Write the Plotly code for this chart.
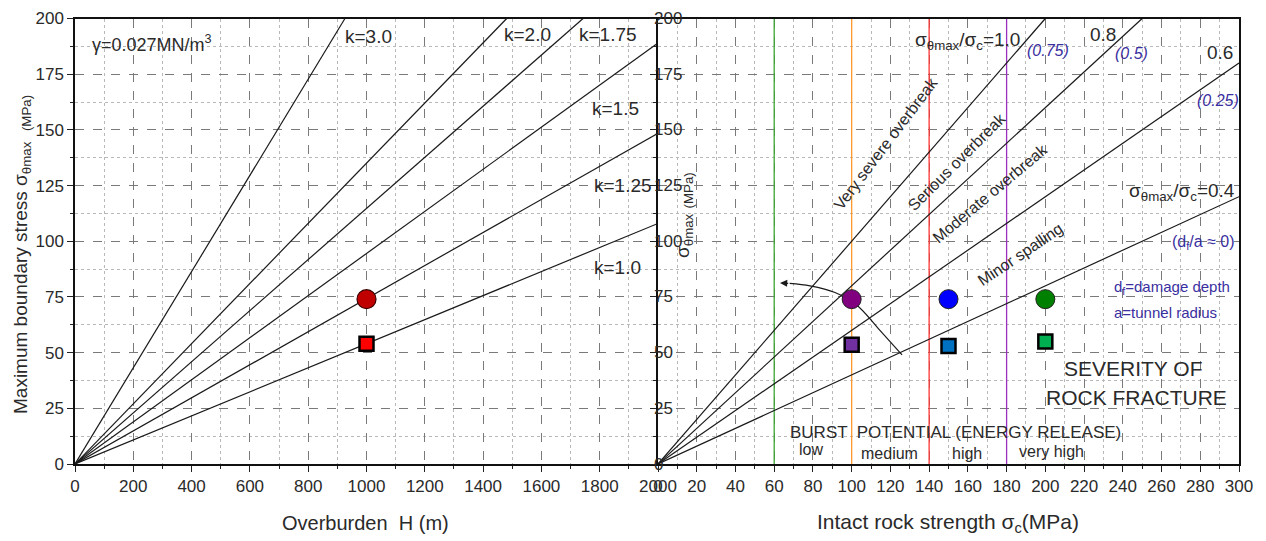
import plotly.graph_objects as go

# ---------------- data ----------------
# Left panel: boundary stress lines for different k (straight lines from origin)
k_labels = ["k=1.0", "k=1.25", "k=1.5", "k=1.75", "k=2.0", "k=3.0"]
k_end_H = [2000, 2000, 2000, 1743, 1481, 926]
k_end_stress = [108, 148.5, 189, 200, 200, 200]
k_label_H = [1774, 1774, 1767, 1722, 1465, 919]
k_label_stress = [88, 125, 159.6, 193, 193, 192]

left_pt_H = [1000]
left_circle_stress = [74]
left_square_stress = [54]

# Right panel: sigma_max / sigma_c ratio lines
ratio_values = ["1.0", "0.8", "0.6", "0.4"]
ratio_end_sc = [200, 250, 300, 300]
ratio_end_stress = [200, 200, 180, 120]

burst_limits = [60, 100, 140, 180]
burst_colors = ["#3aa635", "#ff9a2e", "#ff3333", "#9b30c0"]

right_pt_sc = [100, 150, 200]
right_circle_stress = [74, 74, 74]
right_square_stress = [53.5, 53, 55]
circle_colors = ["#800080", "#0000ff", "#008000"]
square_colors = ["#7030a0", "#0070c0", "#00b050"]

arrow_sc = [126, 114.6, 102.7, 91.4, 78.5, 68]
arrow_stress = [49, 60, 71.3, 77, 80, 81.1]

stress_ticks = [0, 25, 50, 75, 100, 125, 150, 175, 200]

FONT = "Liberation Sans, Arial, sans-serif"
TXT = "#2a2a2a"
BLUE = "#3a2fa0"
OFF = 8  # page body margin

fig = go.Figure()

# left lines
for he, se in zip(k_end_H, k_end_stress):
    fig.add_trace(go.Scatter(x=[0, he], y=[0, se], mode="lines",
                             line=dict(color="#1a1a1a", width=1.2),
                             xaxis="x", yaxis="y", hoverinfo="skip"))
fig.add_trace(go.Scatter(x=left_pt_H, y=left_circle_stress, mode="markers",
                         marker=dict(symbol="circle", size=19, color="#c00000",
                                     line=dict(color="#3a0000", width=1.2)),
                         xaxis="x", yaxis="y"))
fig.add_trace(go.Scatter(x=left_pt_H, y=left_square_stress, mode="markers",
                         marker=dict(symbol="square", size=14, color="#ff0000",
                                     line=dict(color="#000000", width=2.5)),
                         xaxis="x", yaxis="y"))

# right: burst potential vertical lines
for lim, c in zip(burst_limits, burst_colors):
    fig.add_trace(go.Scatter(x=[lim, lim], y=[0, 200], mode="lines",
                             line=dict(color=c, width=1.3),
                             xaxis="x2", yaxis="y2", hoverinfo="skip"))
# ratio lines
for xe, ye in zip(ratio_end_sc, ratio_end_stress):
    fig.add_trace(go.Scatter(x=[0, xe], y=[0, ye], mode="lines",
                             line=dict(color="#1a1a1a", width=1.2),
                             xaxis="x2", yaxis="y2", hoverinfo="skip"))
# curved arrow
fig.add_trace(go.Scatter(x=arrow_sc, y=arrow_stress, mode="lines",
                         line=dict(color="#1a1a1a", width=1.2, shape="spline"),
                         xaxis="x2", yaxis="y2", hoverinfo="skip"))
fig.add_trace(go.Scatter(x=right_pt_sc, y=right_circle_stress, mode="markers",
                         marker=dict(symbol="circle", size=19, color=circle_colors,
                                     line=dict(color="#222222", width=1)),
                         xaxis="x2", yaxis="y2"))
fig.add_trace(go.Scatter(x=right_pt_sc, y=right_square_stress, mode="markers",
                         marker=dict(symbol="square", size=14, color=square_colors,
                                     line=dict(color="#000000", width=2.5)),
                         xaxis="x2", yaxis="y2"))

ann = []
# arrow head
ann.append(dict(x=63, y=81.3, ax=arrow_sc[-1], ay=arrow_stress[-1], xref="x2", yref="y2",
                axref="x2", ayref="y2", showarrow=True, arrowhead=2, arrowsize=1.2,
                arrowwidth=1.2, arrowcolor="#1a1a1a", text=""))

def txt(x, y, t, size, xa="left", ref="", color=TXT, angle=0, ya="middle", xshift=0):
    ann.append(dict(x=x, y=y, text=t, xref="x" + ref, yref="y" + ref, showarrow=False,
                    xanchor=xa, yanchor=ya, textangle=angle, xshift=xshift,
                    font=dict(family=FONT, size=size, color=color)))

# right-panel y tick labels (drawn across the shared axis line)
for v in stress_ticks:
    txt(0, v, str(v), 17, xa="left", ref="2", xshift=-6)

# left panel texts
txt(51, 189, "γ=0.027MN/m<sup>3</sup>", 18)
for lab, lx, ly in zip(k_labels, k_label_H, k_label_stress):
    txt(lx, ly, lab, 19)

# right panel texts
txt(131.6, 190, "σ<sub>θmax</sub>/σ<sub>c</sub>=1.0", 19, ref="2")
txt(222, 193, "0.8", 19, ref="2")
txt(282.4, 184.7, "0.6", 19, ref="2")
txt(189.5, 185.6, "<i>(0.75)</i>", 16, ref="2", color=BLUE)
txt(235, 184.3, "<i>(0.5)</i>", 16, ref="2", color=BLUE)
txt(277.5, 163.2, "<i>(0.25)</i>", 16, ref="2", color=BLUE)
txt(242, 122, "σ<sub>θmax</sub>/σ<sub>c</sub>=0.4", 19, ref="2")
txt(299, 99.5, "(d<sub>f</sub>/a ≈ 0)", 16, xa="right", ref="2", color=BLUE)
txt(234.4, 79.4, "d<sub>f</sub>=damage depth", 15, ref="2", color=BLUE)
txt(234.4, 68.2, "a=tunnel radius", 15, ref="2", color=BLUE)
txt(245.2, 43, "SEVERITY OF", 21, xa="center", ref="2")
txt(247.3, 30, "ROCK FRACTURE", 21, xa="center", ref="2")
txt(67.1, 14.3, "BURST  POTENTIAL (ENERGY RELEASE)", 17, ref="2")
txt(79, 6.3, "low", 16, xa="center", ref="2")
txt(119.5, 4.9, "medium", 16, xa="center", ref="2")
txt(159.5, 4.9, "high", 16, xa="center", ref="2")
txt(203.4, 5.4, "very high", 16, xa="center", ref="2")
txt(117.5, 144, "Very severe overbreak", 16, xa="center", ref="2", angle=-53)
txt(154.3, 136, "Serious overbreak", 16, xa="center", ref="2", angle=-45)
txt(171.4, 121.5, "Moderate overbreak", 16, xa="center", ref="2", angle=-40)
txt(187, 94, "Minor spalling", 16, xa="center", ref="2", angle=-34)

# axis titles
def ptxt(x, y, t, size, angle=0):
    ann.append(dict(x=(x - OFF) / 1266, y=1 - (y - OFF) / 541, text=t, xref="paper",
                    yref="paper", showarrow=False, xanchor="center", yanchor="middle",
                    textangle=angle, font=dict(family=FONT, size=size, color=TXT)))

ptxt(365, 523, "Overburden  H (m)", 20)
ptxt(948, 523, "Intact rock strength σ<sub>c</sub>(MPa)", 21)
ptxt(22, 255, "Maximum boundary stress σ<sub>θmax</sub>  <sub>(MPa)</sub>", 19, angle=-90)
ptxt(684, 215, "σ<sub>θmax</sub> <sub>(MPa)</sub>", 19, angle=-90)

xl0, xl1 = (75 - OFF) / 1266, (658 - OFF) / 1266
xr1 = (1239 - OFF) / 1266
yb, yt = 1 - (464 - OFF) / 541, 1 - (18.5 - OFF) / 541

grid_major = dict(showgrid=True, gridcolor="#7a7a7a", griddash="dash", gridwidth=1)
minor_common = dict(showgrid=True, gridcolor="#b8b8b8", griddash="dot", ticks="outside",
                    ticklen=3, tickcolor="#222")
tickfont = dict(family=FONT, size=17, color=TXT)
common = dict(ticks="outside", ticklen=6, tickcolor="#222", tickfont=tickfont,
              showline=True, linecolor="#111", linewidth=1.5,
              zeroline=False, automargin=False, tick0=0, **grid_major)

fig.update_layout(
    width=1266, height=541,
    margin=dict(l=0, r=0, t=0, b=0, autoexpand=False),
    paper_bgcolor="white", plot_bgcolor="white",
    showlegend=False,
    annotations=ann,
    xaxis=dict(domain=[xl0, xl1], range=[0, 2000], dtick=200, anchor="y", mirror=True,
               minor=dict(dtick=100, **minor_common), **common),
    yaxis=dict(domain=[yb, yt], range=[0, 200], dtick=25, anchor="x", mirror=False,
               minor=dict(dtick=12.5, **minor_common), **common),
    xaxis2=dict(domain=[xl1, xr1], range=[0, 300], dtick=20, anchor="y2", mirror=True,
                minor=dict(dtick=10, **minor_common), **common),
    yaxis2=dict(domain=[yb, yt], range=[0, 200], dtick=25, anchor="x2", mirror=True,
                showticklabels=False,
                minor=dict(dtick=12.5, **minor_common), **common),
)

fig.write_html("out.html")
